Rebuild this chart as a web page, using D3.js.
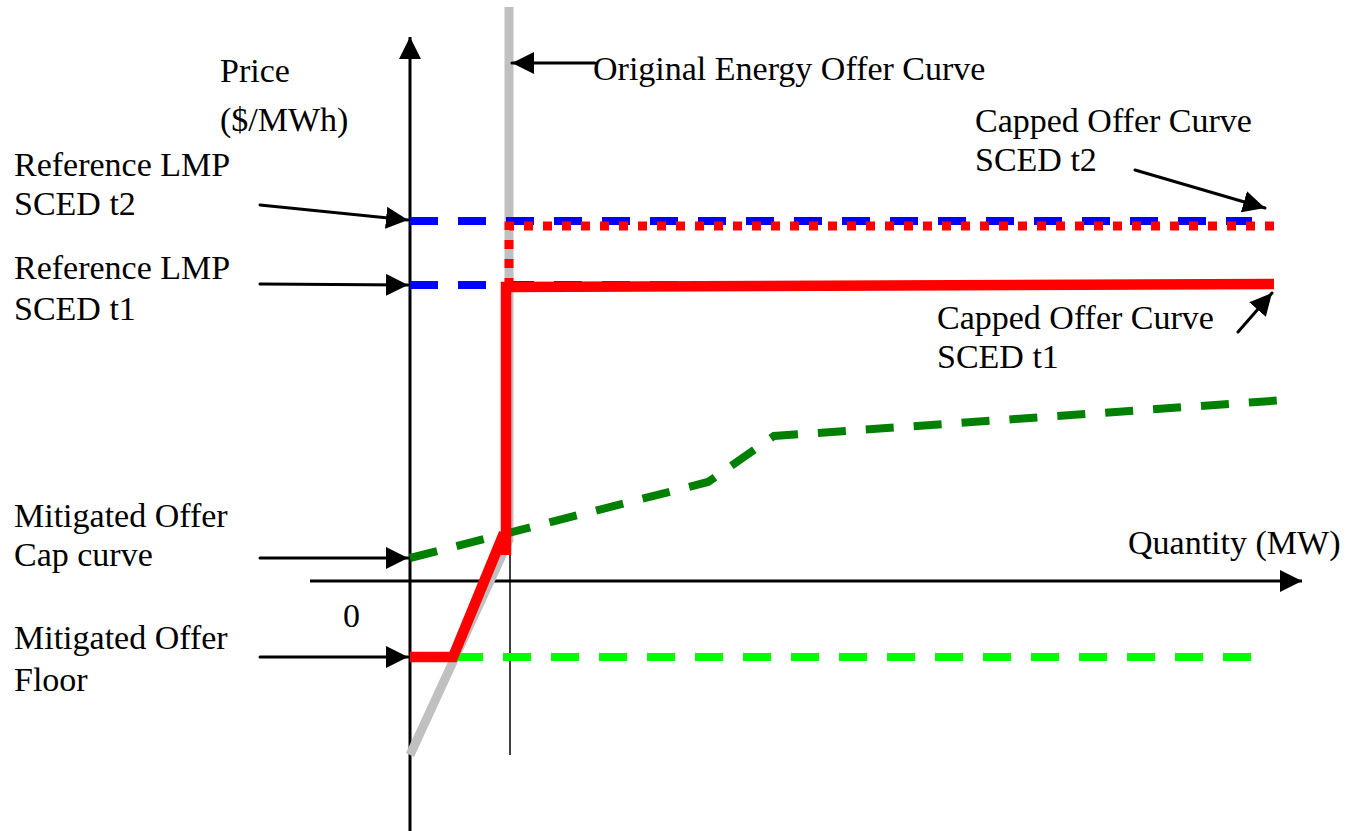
<!DOCTYPE html>
<html>
<head>
<meta charset="utf-8">
<script src="https://cdn.jsdelivr.net/npm/d3@7/dist/d3.min.js"></script>
<style>
  html, body { margin: 0; padding: 0; background: #fff; }
  svg { display: block; }
  text { font-family: "Liberation Serif", "Times New Roman", serif; font-size: 34px; fill: #000; }
</style>
</head>
<body>
<svg id="chart" width="1348" height="831"></svg>
<script>
// ---------- data (quantity in MW units, price in $/MWh units; schematic) ----------
const axisQuantityRange = [-10, 89.2];
const axisPriceRange = [-25, 54.4];
const tickLabels = ["0"];

const originalOfferQ = [0, 9.9, 9.9];
const originalOfferP = [-17.4, 4.1, 57.4];

const cappedT1LowerQ = [0, 4.3, 9.4];
const cappedT1LowerP = [-7.6, -7.6, 4.8];
const cappedT1UpperQ = [9.6, 9.6, 86.4];
const cappedT1UpperP = [2.6, 29.4, 29.7];

const cappedT2Q = [9.9, 9.9, 87.0];
const cappedT2P = [29.4, 35.5, 35.5];

const refLmpT2Q = [0, 84.2];
const refLmpT2P = [36.0, 36.0];
const refLmpT1Q = [0, 84.2];
const refLmpT1P = [29.6, 29.6];

const capCurveQ = [0, 29.8, 36.4, 87.5];
const capCurveP = [2.3, 9.9, 14.5, 18.1];

const floorQ = [4.5, 84.5];
const floorP = [-7.6, -7.6];

const guideQ = [10.0, 10.0];
const guideP = [29.0, -17.4];

// annotation arrows
const arrowNames = ["original", "refT2", "refT1", "cap", "floor", "cappedT2", "cappedT1"];
const arrowFromQ = [18.5, -15.0, -15.0, -15.0, -15.0, 72.5, 82.8];
const arrowFromP = [51.8, 37.6, 29.7, 2.3, -7.6, 41.1, 24.9];
const arrowToQ   = [10.2, -0.2, -0.2, -0.2, -0.2, 85.5, 86.2];
const arrowToP   = [51.8, 36.1, 29.6, 2.3, -7.6, 37.3, 28.8];

// labels
const labelTexts = ["Price", "($/MWh)", "Original Energy Offer Curve",
  "Capped Offer Curve", "SCED t2", "Reference LMP", "SCED t2",
  "Reference LMP", "SCED t1", "Capped Offer Curve", "SCED t1",
  "Mitigated Offer", "Cap curve", "Quantity (MW)",
  "Mitigated Offer", "Floor"];
const labelQ = [-19.0, -19.0, 18.3, 56.5, 56.5, -39.6, -39.6, -39.6, -39.6, 52.7, 52.7,
  -39.6, -39.6, 71.8, -39.6, -39.6];
const labelP = [49.9, 45.0, 50.1, 44.9, 41.0, 40.5, 36.6, 30.2, 26.1, 25.2, 21.3,
  5.4, 1.5, 2.7, -6.8, -11.0];

// ---------- scales ----------
const x = d3.scaleLinear().domain([0, 89]).range([410, 1300]);
const y = d3.scaleLinear().domain([0, 54.4]).range([581, 37]);

const svg = d3.select("#chart");
const defs = svg.append("defs");
defs.append("marker")
  .attr("id", "head")
  .attr("viewBox", "0 0 22 22")
  .attr("refX", 22).attr("refY", 11)
  .attr("markerWidth", 22).attr("markerHeight", 22)
  .attr("markerUnits", "userSpaceOnUse")
  .attr("orient", "auto")
  .append("path").attr("d", "M0,0 L22,11 L0,22 Z").attr("fill", "#000");

const line = d3.line().x(d => x(d[0])).y(d => y(d[1]));
const zip = (qs, ps) => qs.map((q, i) => [q, ps[i]]);

// ---------- axes ----------
svg.append("line")
  .attr("x1", x(axisQuantityRange[0])).attr("y1", y(0))
  .attr("x2", x(axisQuantityRange[1])).attr("y2", y(0))
  .attr("stroke", "#000").attr("stroke-width", 3)
  .attr("marker-end", "url(#head)");
svg.append("line")
  .attr("x1", x(0)).attr("y1", y(axisPriceRange[0]))
  .attr("x2", x(0)).attr("y2", y(axisPriceRange[1]))
  .attr("stroke", "#000").attr("stroke-width", 3)
  .attr("marker-end", "url(#head)");

svg.append("text").attr("x", x(-6.7)).attr("y", y(-4.6)).text(tickLabels[0]);

// ---------- curves ----------
function drawPath(data, color, width, dash, cap) {
  svg.append("path")
    .attr("d", line(data))
    .attr("fill", "none")
    .attr("stroke", color)
    .attr("stroke-width", width)
    .attr("stroke-dasharray", dash || null)
    .attr("stroke-linecap", cap || "butt")
    .attr("stroke-linejoin", "miter");
}

drawPath(zip(guideQ, guideP), "#000", 1.5);
drawPath(zip(originalOfferQ, originalOfferP), "#c0c0c0", 9);
drawPath(zip(refLmpT2Q, refLmpT2P), "#0000ff", 8, "28,20");
drawPath(zip(refLmpT1Q, refLmpT1P), "#0000ff", 8, "28,20");
drawPath(zip(capCurveQ, capCurveP), "#008000", 8, "28,20");
drawPath(zip(floorQ, floorP), "#00ff00", 8, "28,20");
drawPath(zip(cappedT2Q, cappedT2P), "#ff0000", 9, "9,10");
drawPath(zip(cappedT1LowerQ, cappedT1LowerP), "#ff0000", 10.5);
drawPath(zip(cappedT1UpperQ, cappedT1UpperP), "#ff0000", 10.5);

// ---------- annotation arrows ----------
arrowNames.forEach((n, i) => {
  svg.append("line")
    .attr("x1", x(arrowFromQ[i])).attr("y1", y(arrowFromP[i]))
    .attr("x2", x(arrowToQ[i])).attr("y2", y(arrowToP[i]))
    .attr("stroke", "#000").attr("stroke-width", 3)
    .attr("stroke-linecap", "round")
    .attr("marker-end", "url(#head)");
});

// ---------- labels ----------
labelTexts.forEach((t, i) => {
  svg.append("text").attr("x", x(labelQ[i])).attr("y", y(labelP[i])).text(t);
});
</script>
</body>
</html>
